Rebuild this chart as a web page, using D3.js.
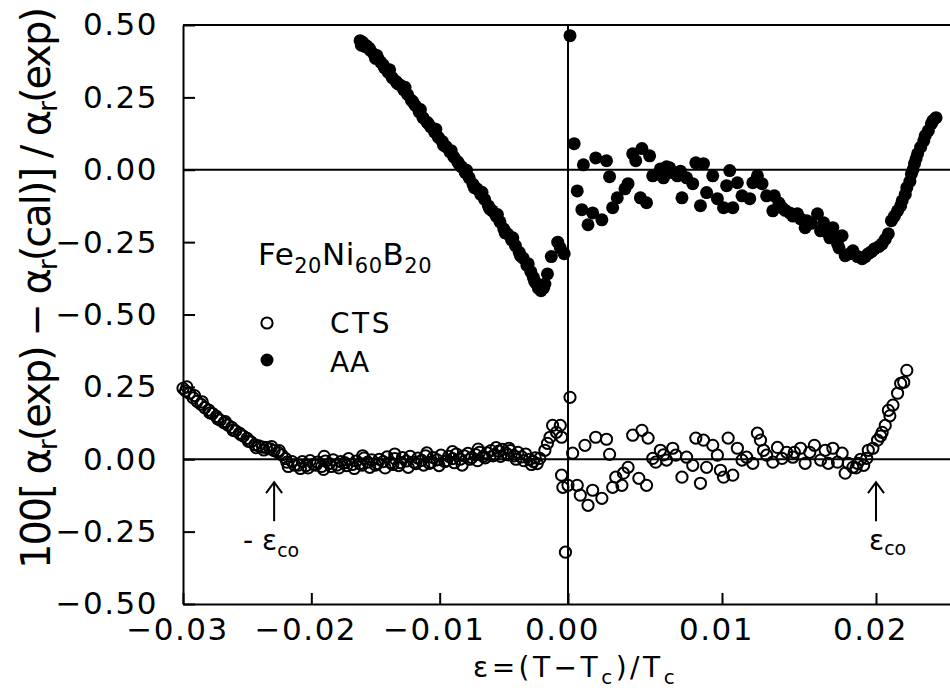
<!DOCTYPE html>
<html>
<head>
<meta charset="utf-8">
<script src="https://cdn.jsdelivr.net/npm/d3@7"></script>
<style>
  html, body { margin: 0; padding: 0; background: #fff; }
  svg { display: block; }
  text { font-family: "DejaVu Sans", "Liberation Sans", Arial, sans-serif; fill: #000; }
</style>
</head>
<body>
<svg id="chart" width="950" height="690"></svg>
<script>
// ---------------- DATA ----------------
const xTicks = [-0.03, -0.02, -0.01, 0.00, 0.01, 0.02];
// stacked axis: upper panel (AA) uses values as is, lower panel (CTS) is offset by -1
const yTicks = [0.5, 0.25, 0, -0.25, -0.5, -0.75, -1.0, -1.25, -1.5];
const lowerOffset = -1.0;
const epsCo = 0.0200;
const minusEpsCo = -0.0229;

// AA (annealed) – filled circles, upper panel
const aaLeft = [
  [-0.0162,0.446],[-0.0160,0.440],[-0.0158,0.425],[-0.0157,0.428],[-0.0154,0.412],[-0.0151,0.398],
  [-0.0150,0.385],[-0.0148,0.384],[-0.0146,0.372],[-0.0143,0.352],[-0.0140,0.336],[-0.0137,0.318],
  [-0.0134,0.305],[-0.0131,0.293],[-0.0128,0.276],[-0.0125,0.260],[-0.0122,0.240],[-0.0119,0.222],
  [-0.0116,0.200],[-0.0113,0.180],[-0.0110,0.165],[-0.0107,0.148],[-0.0104,0.130],[-0.0101,0.112],
  [-0.0098,0.098],[-0.0095,0.080],[-0.0092,0.062],[-0.0089,0.044],[-0.0086,0.028],[-0.0083,0.010],
  [-0.0080,-0.010],[-0.0077,-0.028],[-0.0074,-0.050],[-0.0071,-0.066],[-0.0068,-0.085],[-0.0065,-0.102],
  [-0.0062,-0.125],[-0.0059,-0.142],[-0.0056,-0.160],[-0.0053,-0.180],[-0.0050,-0.205],[-0.0047,-0.222],
  [-0.0044,-0.242],[-0.0041,-0.262],[-0.0038,-0.285],[-0.0035,-0.305],[-0.0032,-0.330],[-0.0029,-0.352],
  [-0.0027,-0.372],[-0.0025,-0.392],[-0.0023,-0.410],[-0.0021,-0.418],[-0.0019,-0.408],[-0.0016,-0.360],
  [-0.0013,-0.300],[-0.0008,-0.250],[-0.0006,-0.270],[-0.0003,-0.290],
  [-0.0161,0.430],[-0.0155,0.420],[-0.0149,0.395],[-0.0144,0.362],[-0.0139,0.345],[-0.0133,0.298],
  [-0.0127,0.285],[-0.0121,0.235],[-0.0115,0.208],[-0.0109,0.160],[-0.0103,0.140],[-0.0097,0.085],
  [-0.0091,0.066],[-0.0085,0.020],[-0.0079,-0.002],[-0.0073,-0.062],[-0.0067,-0.078],[-0.0061,-0.135],
  [-0.0055,-0.155],[-0.0049,-0.218],[-0.0043,-0.235],[-0.0037,-0.298],[-0.0031,-0.325],[-0.0026,-0.385],
  [-0.0022,-0.400],[-0.0018,-0.395]
];
const aaRight = [
  [0.00013,0.463],
  [0.0004,0.090],[0.0010,0.017],[0.0018,0.041],[0.0025,0.031],[0.0027,-0.024],[0.0006,-0.073],
  [0.0009,-0.138],[0.0016,-0.149],[0.0013,-0.190],[0.0022,-0.173],[0.0029,-0.131],[0.0032,-0.097],
  [0.0037,-0.066],[0.0039,-0.048],[0.0047,-0.097],[0.0051,-0.114],[0.0042,0.055],[0.0048,0.073],
  [0.0053,0.048],[0.0044,0.031],[0.0055,-0.021],[0.0058,-0.015],[0.0060,0.003],[0.0064,0.010],
  [0.0066,0.007],[0.0068,-0.010],[0.0062,-0.028],[0.0071,-0.021],[0.0073,-0.005],[0.0077,-0.028],
  [0.0081,-0.048],[0.0074,-0.097],[0.0083,0.024],[0.0088,0.021],[0.0094,-0.021],[0.0090,-0.079],
  [0.0086,-0.124],[0.0097,-0.100],[0.0101,-0.131],[0.0103,-0.055],[0.0105,-0.003],[0.0107,-0.131],
  [0.0110,-0.045],[0.0113,-0.090],[0.0118,-0.100],[0.0120,-0.045],[0.0123,-0.021],[0.0126,-0.048],
  [0.0129,-0.090],[0.0134,-0.090],[0.0133,-0.142],[0.0137,-0.115],[0.0139,-0.131],[0.0141,-0.140],
  [0.0144,-0.149],[0.0146,-0.160],[0.0149,-0.152],[0.0151,-0.170],[0.0155,-0.176],[0.0154,-0.200],
  [0.0158,-0.185],[0.0162,-0.152],[0.0166,-0.183],[0.0164,-0.211],[0.0168,-0.215],[0.0172,-0.200],
  [0.0170,-0.235],[0.0173,-0.235],[0.0178,-0.228],[0.0175,-0.256],[0.0176,-0.270],[0.0180,-0.297],
  [0.0183,-0.290],[0.0185,-0.280],[0.0188,-0.300],[0.0191,-0.307],[0.0193,-0.300],[0.0195,-0.290],
  [0.0197,-0.283],[0.0199,-0.273],[0.0202,-0.265],[0.0204,-0.256],[0.0206,-0.240],[0.0208,-0.221],
  [0.0210,-0.176],[0.0212,-0.160],[0.0214,-0.142],[0.0216,-0.125],[0.0217,-0.107],[0.0219,-0.085],
  [0.0220,-0.062],[0.0222,-0.040],[0.0223,-0.014],[0.0224,0.000],[0.0225,0.021],[0.0226,0.038],
  [0.0227,0.055],[0.0229,0.078],[0.0231,0.100],[0.0232,0.118],[0.0234,0.135],[0.0236,0.159],
  [0.0237,0.170],[0.0239,0.180]
];

// CTS (as-quenched) – open circles, lower panel
const ctsLeft = [
  [-0.0300,0.245],[-0.0298,0.236],[-0.0295,0.228],[-0.0292,0.212],[-0.0289,0.200],[-0.0286,0.190],
  [-0.0283,0.178],[-0.0280,0.170],[-0.0277,0.158],[-0.0274,0.148],[-0.0271,0.135],[-0.0268,0.126],
  [-0.0265,0.118],[-0.0262,0.110],[-0.0259,0.098],[-0.0256,0.090],[-0.0253,0.080],[-0.0250,0.072],
  [-0.0247,0.060],[-0.0244,0.050],[-0.0241,0.046],[-0.0238,0.042],[-0.0235,0.040],[-0.0232,0.036],
  [-0.0229,0.030],[-0.0226,0.024],[-0.0223,0.015],[-0.0220,0.002],[-0.0218,-0.025],[-0.0215,-0.008],
  [-0.0213,-0.020],
  [-0.0297,0.250],[-0.0291,0.220],[-0.0285,0.198],[-0.0279,0.160],[-0.0273,0.140],[-0.0267,0.130],
  [-0.0261,0.100],[-0.0255,0.085],[-0.0249,0.062],[-0.0243,0.040],[-0.0237,0.032],[-0.0231,0.044],
  [-0.0225,0.030],[-0.0219,-0.010],
  [-0.0210,-0.020],[-0.0207,-0.008],[-0.0204,-0.022],[-0.0201,-0.005],[-0.0198,-0.018],[-0.0195,-0.010],
  [-0.0192,-0.025],[-0.0189,-0.006],[-0.0186,-0.015],[-0.0183,-0.002],[-0.0180,-0.020],[-0.0177,-0.008],
  [-0.0174,-0.012],[-0.0171,0.002],[-0.0168,-0.018],[-0.0165,-0.006],[-0.0162,-0.015],[-0.0159,0.004],
  [-0.0156,-0.010],[-0.0153,-0.002],[-0.0150,-0.020],[-0.0147,0.000],[-0.0144,-0.008],[-0.0141,0.008],
  [-0.0138,-0.012],[-0.0135,0.002],[-0.0132,-0.022],[-0.0129,0.006],[-0.0126,-0.006],[-0.0123,0.010],
  [-0.0120,-0.010],[-0.0117,0.004],[-0.0114,-0.004],[-0.0111,0.012],[-0.0108,-0.014],[-0.0105,0.006],
  [-0.0102,-0.002],[-0.0099,0.014],[-0.0096,-0.008],[-0.0093,0.010],[-0.0090,0.002],[-0.0087,0.018],
  [-0.0084,0.000],[-0.0081,0.012],[-0.0078,0.020],[-0.0075,0.006],[-0.0072,0.016],[-0.0069,0.024],
  [-0.0066,0.010],[-0.0063,0.022],[-0.0060,0.030],[-0.0057,0.016],[-0.0054,0.028],[-0.0051,0.034],
  [-0.0048,0.020],[-0.0045,0.030],[-0.0042,0.012],[-0.0039,0.024],[-0.0036,0.008],[-0.0033,0.018],
  [-0.0030,0.000],[-0.0027,-0.008],[-0.0024,-0.015],[-0.0022,0.003],
  [-0.02085,-0.032],[-0.02025,-0.030],[-0.01965,-0.020],[-0.01905,-0.035],[-0.01845,-0.025],
  [-0.01785,-0.030],[-0.01725,-0.022],[-0.01665,-0.032],[-0.01605,-0.020],[-0.01545,-0.028],
  [-0.01485,-0.015],[-0.01425,-0.030],[-0.01365,-0.018],[-0.01305,-0.012],[-0.01245,-0.028],
  [-0.01185,-0.015],[-0.01125,-0.020],[-0.01065,-0.010],[-0.01005,-0.022],[-0.00945,-0.005],
  [-0.00885,-0.012],[-0.00825,-0.020],[-0.00765,0.000],[-0.00705,-0.005],[-0.00645,0.005],
  [-0.00585,0.012],[-0.00525,0.010],[-0.00465,0.015],[-0.00405,0.000],[-0.00345,-0.005],
  [-0.00285,-0.018],[-0.00255,0.005],
  [-0.0190,0.010],[-0.0160,0.012],[-0.0135,0.018],[-0.0110,0.022],[-0.0090,0.026],[-0.0070,0.035],
  [-0.0056,0.040],[-0.0046,0.038],
  [-0.0018,0.031],[-0.0016,0.055],[-0.0014,0.076],[-0.0012,0.117],[-0.0009,0.093],[-0.0006,0.117],
  [-0.0005,0.076],[-0.0005,-0.055],[-0.0004,-0.097],[-0.0002,-0.321]
];
const ctsRight = [
  [0.00013,0.214],[0.0003,0.021],[0.0011,0.048],[0.0018,0.076],[0.0025,0.069],[0.0027,0.017],
  [0.0000,-0.090],[0.0006,-0.090],[0.0008,-0.124],[0.0013,-0.159],[0.0016,-0.107],[0.0022,-0.135],
  [0.0029,-0.097],[0.0031,-0.062],[0.0035,-0.090],[0.0036,-0.048],[0.0039,-0.028],[0.0042,0.083],
  [0.0048,0.100],[0.0052,0.073],[0.0046,-0.066],[0.0051,-0.090],[0.0055,0.003],[0.0057,-0.010],
  [0.0060,0.031],[0.0062,0.015],[0.0064,-0.003],[0.0068,0.038],[0.0070,0.014],[0.0074,-0.062],
  [0.0077,0.007],[0.0081,-0.021],[0.0083,0.073],[0.0088,0.066],[0.0086,-0.083],[0.0090,-0.028],
  [0.0094,0.048],[0.0097,0.014],[0.0099,-0.038],[0.0101,-0.062],[0.0104,0.073],[0.0107,-0.055],
  [0.0110,0.038],[0.0113,-0.003],[0.0116,0.007],[0.0120,-0.014],[0.0123,0.090],[0.0125,0.066],
  [0.0127,0.031],[0.0129,0.014],[0.0133,-0.010],[0.0136,0.041],[0.0139,0.003],[0.0142,0.024],
  [0.0146,0.007],[0.0147,0.024],[0.0151,0.038],[0.0154,-0.014],[0.0157,0.024],[0.0160,0.048],
  [0.0164,-0.003],[0.0167,0.031],[0.0169,-0.014],[0.0172,0.038],[0.0175,-0.010],[0.0178,0.021],
  [0.0180,-0.048],[0.0182,-0.014],[0.0185,-0.028],[0.0187,-0.030],[0.0188,-0.014],[0.0190,0.000],
  [0.0192,-0.021],[0.0194,0.003],[0.0195,0.031],[0.0198,0.038],[0.0201,0.066],[0.0203,0.080],
  [0.0204,0.093],[0.0206,0.117],[0.0208,0.169],[0.0209,0.150],[0.0211,0.187],[0.0214,0.228],
  [0.0216,0.262],[0.0218,0.266],[0.0220,0.307]
];

// ---------------- CHART ----------------
const svg = d3.select("#chart");
const W = 950, H = 690;
svg.append("rect").attr("width", W).attr("height", H).attr("fill", "#fff");

const x = d3.scaleLinear().domain([-0.03, 0, 0.025]).range([183, 568, 953]);
const y = d3.scaleLinear().domain([-1.5, 0.5]).range([604, 25]);
const fmt = d3.format(".2f");

// frame pieces: top line, zero lines, vertical zero line
const g = svg.append("g").attr("stroke", "#000").attr("stroke-width", 2).attr("fill", "none");
g.append("line").attr("x1", x(-0.03)).attr("x2", W).attr("y1", y(0.5)).attr("y2", y(0.5));
g.append("line").attr("x1", x(-0.03)).attr("x2", W).attr("y1", y(0)).attr("y2", y(0));
g.append("line").attr("x1", x(-0.03)).attr("x2", W).attr("y1", y(lowerOffset)).attr("y2", y(lowerOffset));
g.append("line").attr("x1", x(0)).attr("x2", x(0)).attr("y1", y(0.5)).attr("y2", y(-1.5));

// axes
const xAxis = d3.axisBottom(x).tickValues(xTicks).tickFormat(fmt)
  .tickSizeInner(-11).tickSizeOuter(0).tickPadding(14);
const gx = svg.append("g").attr("transform", `translate(0,${y(-1.5)})`).call(xAxis);
const yAxis = d3.axisLeft(y).tickValues(yTicks)
  .tickFormat(v => fmt(v >= -0.5 ? v : v - lowerOffset))
  .tickSizeInner(-12).tickSizeOuter(0).tickPadding(25);
const gy = svg.append("g").attr("transform", `translate(${x(-0.03)},0)`).call(yAxis);

[gx, gy].forEach(a => {
  a.selectAll(".domain").attr("stroke-width", 2);
  a.selectAll(".tick line").attr("stroke-width", 2);
  a.selectAll("text").attr("font-size", 31).attr("letter-spacing", "1.5px")
    .attr("font-family", '"DejaVu Sans", "Liberation Sans", Arial, sans-serif');
});
gx.selectAll("text").attr("dx", "-6");

// data
svg.append("g").selectAll("circle").data(aaLeft.concat(aaRight)).join("circle")
  .attr("cx", d => x(d[0])).attr("cy", d => y(d[1])).attr("r", 6.5).attr("fill", "#000");
svg.append("g").selectAll("circle").data(ctsLeft.concat(ctsRight)).join("circle")
  .attr("cx", d => x(d[0])).attr("cy", d => y(d[1] + lowerOffset)).attr("r", 5.6)
  .attr("fill", "none").attr("stroke", "#000").attr("stroke-width", 2);

// legend
const lg = svg.append("g");
const formula = lg.append("text").attr("x", 258).attr("y", 265).attr("font-size", 31).attr("letter-spacing", "0.5px");
[["Fe", false], ["20", true], ["Ni", false], ["60", true], ["B", false], ["20", true]].forEach(([t, sub]) => {
  formula.append("tspan").text(t).attr("font-size", sub ? 21 : 31).attr("dy", sub ? 8 : -8);
});
formula.select("tspan").attr("dy", 0);
lg.append("circle").attr("cx", 267).attr("cy", 323).attr("r", 5.6).attr("fill", "none")
  .attr("stroke", "#000").attr("stroke-width", 2);
lg.append("circle").attr("cx", 267).attr("cy", 360).attr("r", 6.5).attr("fill", "#000");
lg.append("text").attr("x", 330).attr("y", 333).attr("font-size", 28).attr("letter-spacing", "2.5px").text("CTS");
lg.append("text").attr("x", 330).attr("y", 372).attr("font-size", 28).text("AA");

// arrows marking crossover
function arrow(xv) {
  const px = x(xv);
  const top = y(lowerOffset - 0.079), bot = y(lowerOffset - 0.214);
  const a = svg.append("g").attr("stroke", "#000").attr("stroke-width", 2).attr("fill", "none");
  a.append("line").attr("x1", px).attr("x2", px).attr("y1", top).attr("y2", bot);
  a.append("path").attr("d", `M${px - 8},${top + 11} L${px},${top} L${px + 8},${top + 11}`);
}
arrow(minusEpsCo);
arrow(epsCo);
const l1 = svg.append("text").attr("x", 243).attr("y", 550).attr("font-size", 28);
l1.append("tspan").text("- ε");
l1.append("tspan").text("co").attr("font-size", 19).attr("dy", 7);
const l2 = svg.append("text").attr("x", 869).attr("y", 550).attr("font-size", 28);
l2.append("tspan").text("ε");
l2.append("tspan").text("co").attr("font-size", 19).attr("dy", 5);

// x title
const xt = svg.append("text").attr("x", 473).attr("y", 677).attr("font-size", 28).attr("letter-spacing", "3.5px");
xt.append("tspan").text("ε=(T−T");
xt.append("tspan").text("c").attr("font-size", 20).attr("dy", 7);
xt.append("tspan").text(")/T").attr("dy", -7);
xt.append("tspan").text("c").attr("font-size", 20).attr("dy", 7);

// y title
const yt = svg.append("text").attr("transform", "translate(50,288) rotate(-90)")
  .attr("text-anchor", "middle").attr("font-size", 40)
  .attr("textLength", 562).attr("lengthAdjust", "spacing");
const parts = [["100[ α", 0], ["r", 1], ["(exp) − α", -1], ["r", 1], ["(cal)] / α", -1], ["r", 1], ["(exp)", -1]];
parts.forEach(([t, s]) => {
  const ts = yt.append("tspan").text(t);
  if (s === 1) ts.attr("font-size", 26).attr("dy", 7);
  else if (s === -1) ts.attr("dy", -7);
});
</script>
</body>
</html>
